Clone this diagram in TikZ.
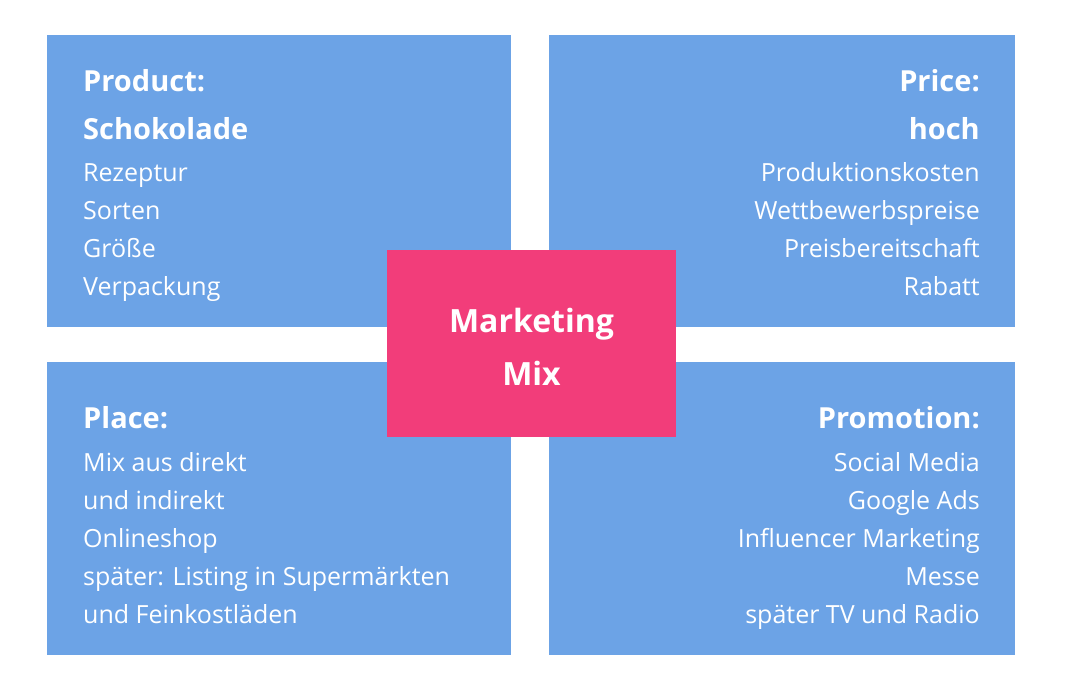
\documentclass[tikz,border=0pt]{standalone}
\usepackage{fontspec}
\setmainfont{Open Sans}
\definecolor{boxblue}{HTML}{6CA3E6}
\definecolor{mixpink}{HTML}{F23D7A}
\begin{document}
\begin{tikzpicture}[x=1pt,y=-1pt,
  quad/.style={fill=boxblue,draw=none},
  body/.style={text=white,font=\fontsize{25}{30}\selectfont,inner sep=0pt},
  head/.style={text=white,font=\fontsize{29}{34}\selectfont\bfseries,inner sep=0pt},
  lw/.style={anchor=base west},
  le/.style={anchor=base east}]
\useasboundingbox (0,0) rectangle (1066,694);
\fill[white] (0,0) rectangle (1066,694);
\path[quad] (47,35) rectangle (511,327) node[pos=0] (q1) {};
\path[quad] (549,35) rectangle (1015,327) node[pos=0] (q2) {};
\path[quad] (47,362) rectangle (511,655) node[pos=0] (q3) {};
\path[quad] (549,362) rectangle (1015,655) node[pos=0] (q4) {};
\path[fill=mixpink] (387,250) rectangle (676,437);
% Product
\node[head,lw] (p1) at (83,91) {Product:};
\node[head,lw] (p2) at (83,139) {Schokolade};
\node[body,lw] (p3) at (83,181) {Rezeptur};
\node[body,lw] (p4) at (83,219) {Sorten};
\node[body,lw] (p5) at (83,257) {Größe};
\node[body,lw] (p6) at (83,295) {Verpackung};
% Price
\node[head,le] (r1) at (980,91) {Price:};
\node[head,le] (r2) at (980,139) {hoch};
\node[body,le] (r3) at (980,181) {Produktionskosten};
\node[body,le] (r4) at (980,219) {Wettbewerbspreise};
\node[body,le] (r5) at (980,257) {Preisbereitschaft};
\node[body,le] (r6) at (980,295) {Rabatt};
% Place
\node[head,lw] (l1) at (83,428) {Place:};
\node[body,lw] (l2) at (83,471) {Mix aus direkt};
\node[body,lw] (l3) at (83,509) {und indirekt};
\node[body,lw] (l4) at (83,547) {Onlineshop};
\node[body,lw] (l5) at (83,585) {später: Listing in Supermärkten};
\node[body,lw] (l6) at (83,623) {und Feinkostläden};
% Promotion
\node[head,le] (m1) at (980,428) {Promotion:};
\node[body,le] (m2) at (980,471) {Social Media};
\node[body,le] (m3) at (980,509) {Google Ads};
\node[body,le] (m4) at (980,547) {Influencer Marketing};
\node[body,le] (m5) at (980,585) {Messe};
\node[body,le] (m6) at (980,623) {später TV und Radio};
% center
\node[head,font=\fontsize{32}{38}\selectfont\bfseries,anchor=base] (c1) at (531.5,332) {Marketing};
\node[head,font=\fontsize{32}{38}\selectfont\bfseries,anchor=base] (c2) at (531.5,385) {Mix};
\end{tikzpicture}
\end{document}
